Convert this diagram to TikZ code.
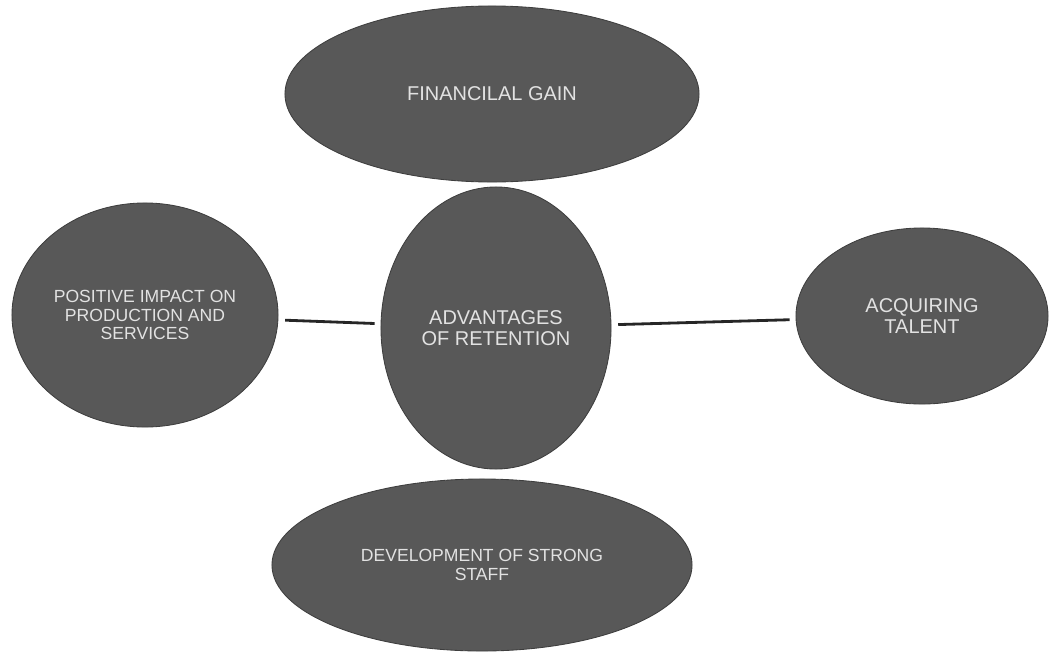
\documentclass[tikz,border=0pt]{standalone}
\usepackage{fontspec}
\setmainfont{Liberation Sans}
\usepackage{tikz}
\usetikzlibrary{shapes.geometric}
\definecolor{bubblegray}{RGB}{88,88,88}
\definecolor{bubbleline}{RGB}{62,62,62}
\definecolor{bubbletext}{RGB}{226,226,226}
\tikzstyle{bubble} = [ellipse, draw=bubbleline, fill=bubblegray, text=bubbletext, line width=0.6pt, inner sep=0pt, align=center]
\tikzstyle{bigtext} = [font=\fontsize{14.2}{15.2}\selectfont]
\tikzstyle{smalltext} = [font=\fontsize{12.5}{12.9}\selectfont]
\tikzstyle{link} = [line width=2pt, draw=black!85, shorten <=0.17cm, shorten >=0.15cm]

\begin{document}
\begin{tikzpicture}[x=0.025cm,y=-0.025cm]
    % Margens
    \useasboundingbox (0,0) rectangle (1049,651);

    % Elipses
    \node[bubble, bigtext, minimum width=10.35cm, minimum height=4.4cm] (gain) at (492,94) {FINANCILAL GAIN};
    \node[bubble, bigtext, minimum width=5.75cm, minimum height=7.05cm] (core) at (496,328) {ADVANTAGES\\OF RETENTION};
    \node[bubble, smalltext, minimum width=6.65cm, minimum height=5.6cm] (impact) at (145,315) {POSITIVE IMPACT ON\\PRODUCTION AND\\SERVICES};
    \node[bubble, bigtext, minimum width=6.3cm, minimum height=4.4cm] (talent) at (922,316) {ACQUIRING\\TALENT};
    \node[bubble, smalltext, minimum width=10.5cm, minimum height=4.3cm] (staff) at (482,565) {DEVELOPMENT OF STRONG\\STAFF};

    % Ligacoes
    \draw[link] (impact) -- (core);
    \draw[link] (core) -- (talent);
\end{tikzpicture}
\end{document}
